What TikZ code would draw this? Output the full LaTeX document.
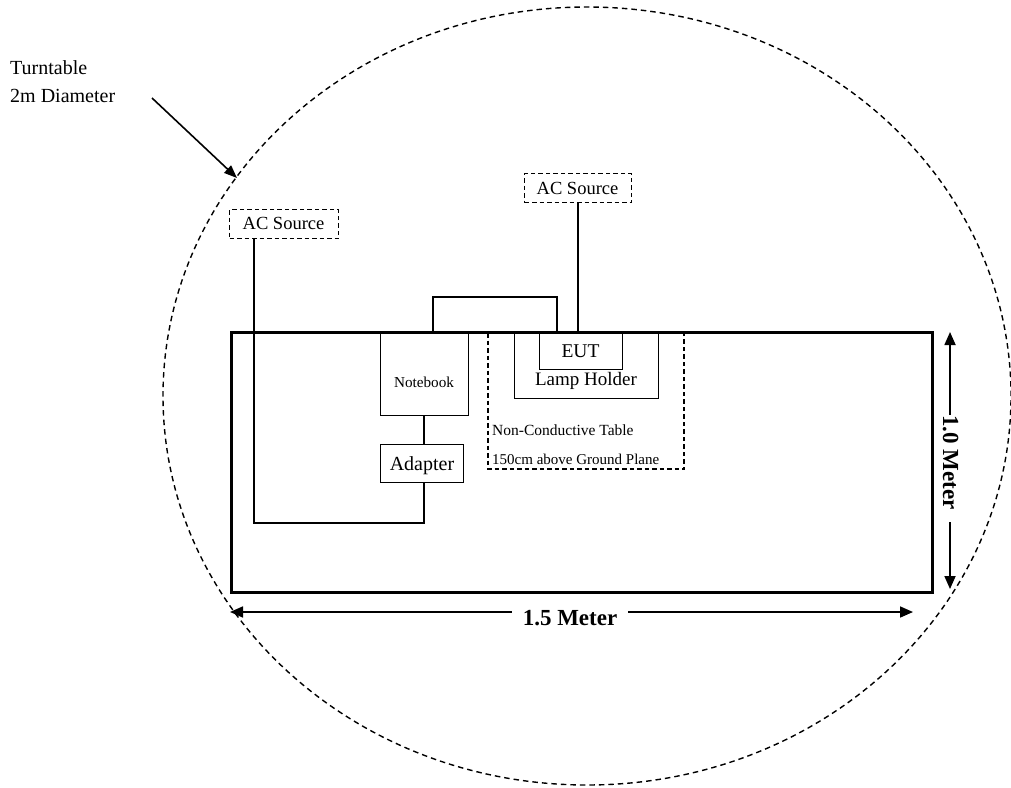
\documentclass[tikz,border=0pt]{standalone}
\usepackage{fontspec}
\setmainfont{Liberation Serif}
\usetikzlibrary{arrows.meta}
\begin{document}
\begin{tikzpicture}[x=1pt,y=-1pt,
  wire/.style={line width=1.4pt},
  box/.style={draw, line width=1.3pt, inner sep=0pt, anchor=north west},
  dbox/.style={draw, dash pattern=on 4.5pt off 3pt, line width=1.2pt, inner sep=0pt, anchor=north west},
  lbl/.style={inner sep=0pt, anchor=base},
  dimtip/.style={-{Triangle[length=13pt,width=11pt]}, line width=1.7pt},
  ttip/.style={-{Triangle[length=13pt,width=10pt]}, line width=1.6pt}]
\useasboundingbox (0,0) rectangle (1011,787);
% turntable
\draw[dash pattern=on 5.5pt off 4pt, line width=1.4pt] (587,396) ellipse [x radius=424pt, y radius=389pt];
\node[lbl, anchor=base west, font=\fontsize{20}{24}\selectfont] (tt1) at (10,74) {Turntable};
\node[lbl, anchor=base west, font=\fontsize{20}{24}\selectfont] (tt2) at (10,102) {2m Diameter};
\coordinate (ts) at (152,98);
\coordinate (te) at (237,178);
\draw[ttip] (ts) -- (te);
% table
\node[box, line width=2.6pt, minimum width=701pt, minimum height=260pt] (table) at (230,331) {};
% dashed non-conductive table
\coordinate (d1) at (488,333);
\coordinate (d2) at (684,469);
\draw[dash pattern=on 4.5pt off 3pt, line width=1.2pt] (d1) |- (d2) -- (d2 |- d1);
\node[lbl, anchor=base west, font=\fontsize{15.5}{18}\selectfont] (nct1) at (492,435) {Non-Conductive Table};
\node[lbl, anchor=base west, font=\fontsize{15}{18}\selectfont] (nct2) at (492,464) {150cm above Ground Plane};
% lamp holder and EUT
\node[box, minimum width=144pt, minimum height=67pt] (lh) at (514,331) {};
\node[lbl, font=\fontsize{19}{22}\selectfont] (lht) at (586,385) {Lamp Holder};
\node[box, minimum width=83pt, minimum height=38pt] (eut) at (539,331) {};
\node[lbl, font=\fontsize{19.5}{22}\selectfont] (eutt) at (580.5,357) {EUT};
% notebook and adapter
\node[box, minimum width=88pt, minimum height=83pt] (nb) at (380,332) {};
\node[lbl, font=\fontsize{15.2}{18}\selectfont] (nbt) at (424,387) {Notebook};
\node[box, minimum width=83pt, minimum height=38pt] (ad) at (380,444) {};
\node[lbl, font=\fontsize{20}{22}\selectfont] (adt) at (422,470) {Adapter};
% AC sources
\node[dbox, minimum width=109pt, minimum height=29pt] (acl) at (229,209) {};
\node[lbl, font=\fontsize{18.5}{22}\selectfont] (aclt) at (283.5,229) {AC Source};
\node[dbox, minimum width=107pt, minimum height=29pt] (acr) at (524,173) {};
\node[lbl, font=\fontsize{18.5}{22}\selectfont] (acrt) at (577.5,194) {AC Source};
% wiring
\coordinate (nbx) at (424,0);
\draw[wire] (nb.south -| nbx) -- (ad.north -| nbx);
\coordinate (acx) at (254,0);
\coordinate (loopy) at (0,523);
\draw[wire] (acl.south -| acx) -- (acx |- loopy) -- (nbx |- loopy) -- (ad.south -| nbx);
\draw[wire] (acr.south) -- (eut.north -| acr.south);
\coordinate (b1) at (433,331);
\coordinate (b2) at (557,297);
\draw[wire] (b1) |- (b2) -- (b2 |- b1);
% dimensions
\coordinate (hl) at (230,612);
\coordinate (hr) at (913,612);
\node[lbl, font=\bfseries\fontsize{23}{26}\selectfont] (hlab) at (570,625) {1.5 Meter};
\draw[dimtip] (hlab.west |- hl) ++(-11,0) -- (hl);
\draw[dimtip] (hlab.east |- hr) ++(11,0) -- (hr);
\coordinate (vt) at (950,332);
\coordinate (vb) at (950,589);
\node[inner sep=0pt, anchor=base west, rotate=-90, font=\bfseries\fontsize{23}{26}\selectfont] (vlab) at (943,415) {1.0 Meter};
\coordinate (v1) at (950,415);
\coordinate (v2) at (950,522);
\draw[dimtip] (v1) -- (vt);
\draw[dimtip] (v2) -- (vb);
\end{tikzpicture}
\end{document}
